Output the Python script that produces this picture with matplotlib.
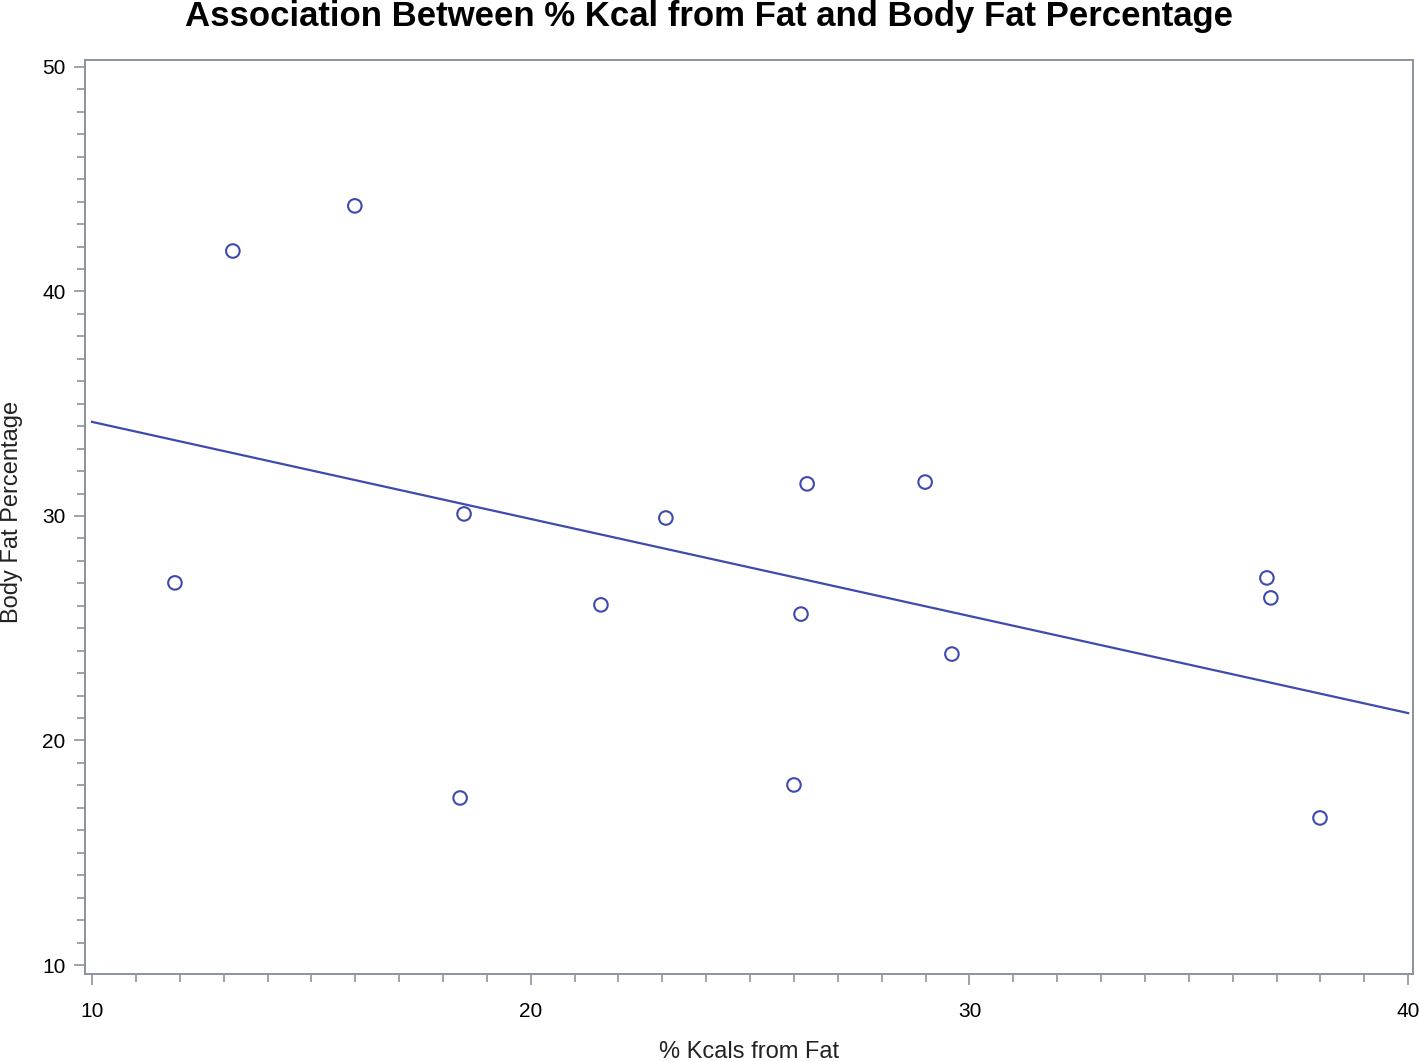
import matplotlib
matplotlib.use("Agg")
import matplotlib.pyplot as plt
from matplotlib.ticker import MultipleLocator

plt.rcParams['font.family'] = ['Liberation Sans', 'DejaVu Sans']

kcal_fat = [11.89, 13.21, 15.99, 18.48, 18.39, 21.60, 23.08, 26.30, 26.16,
            26.00, 28.99, 29.60, 36.78, 36.87, 37.99]
body_fat = [27.02, 41.80, 43.81, 30.09, 17.44, 26.04, 29.91, 31.43, 25.63,
            18.02, 31.51, 23.85, 27.24, 26.35, 16.55]
fit_x = [10, 40]
fit_y = [34.19, 21.22]
x_ticks = [10, 20, 30, 40]
y_ticks = [10, 20, 30, 40, 50]

title = "Association Between % Kcal from Fat and Body Fat Percentage"
xlabel = "% Kcals from Fat"
ylabel = "Body Fat Percentage"

blue = '#3F4AAE'
frame = '#8A949E'

W, H = 1419, 1061
fig = plt.figure(figsize=(W/100, H/100), dpi=100)
ax = fig.add_axes([85/W, 1-974/H, (1413-85)/W, (974-59.5)/H])

ax.plot(fit_x, fit_y, color=blue, lw=1.6, zorder=2)
ax.scatter(kcal_fat, body_fat, s=95, facecolors='none', edgecolors=blue,
           linewidths=1.5, zorder=3)

ax.set_xlim(9.84, 40.11)
ax.set_ylim(9.60, 50.33)
ax.set_xticks(x_ticks)
ax.set_yticks(y_ticks)
ax.xaxis.set_minor_locator(MultipleLocator(1))
ax.yaxis.set_minor_locator(MultipleLocator(1))

for s in ax.spines.values():
    s.set_color(frame)
    s.set_linewidth(1.4)

ax.tick_params(which='both', direction='out', color=frame, width=1.2)
ax.tick_params(which='major', length=8, labelsize=15)
ax.tick_params(axis='x', which='major', pad=12)
ax.tick_params(axis='y', which='major', pad=6)
ax.tick_params(which='minor', length=6)

fig.text(749/W, 1-1052/H, xlabel, fontsize=17, color='#222222',
         ha='center', va='center')
fig.text(12/W, 1-512/H, ylabel, fontsize=17, color='#222222',
         ha='center', va='center', rotation=90)

fig.text(709/W, 1-26/H, title, fontsize=25, fontweight='bold',
         ha='center', va='baseline')

fig.savefig('out.png', dpi=100)
